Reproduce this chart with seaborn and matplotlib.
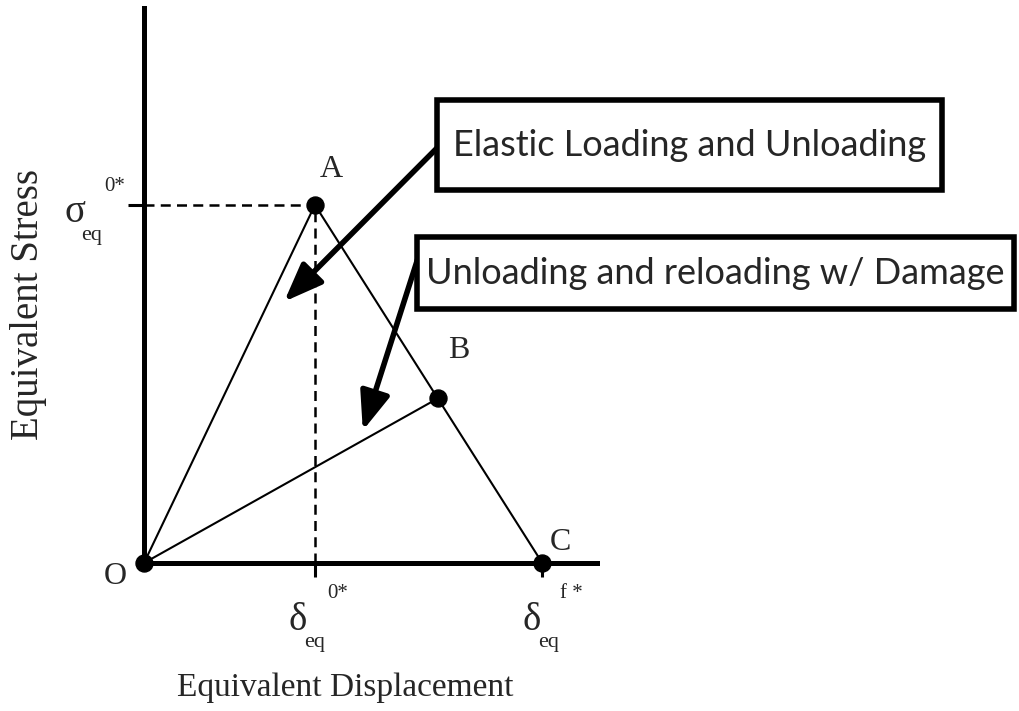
import numpy as np
import pandas as pd
import matplotlib
matplotlib.use("Agg")
import matplotlib.pyplot as plt
from matplotlib.patches import Rectangle
import seaborn as sns

## Data (equivalent displacement / equivalent stress, normalised to point A)
point_names = ["O", "A", "B", "C"]
disp = [0.0, 1.0, 1.72, 2.33]
stress = [0.0, 1.0, 0.46, 0.0]

# path segments drawn between the named points
segments = [("O", "A"), ("A", "C"), ("O", "B")]

# tick positions on the two axes
x_ticks = [1.0, 2.33]
y_ticks = [1.0]

box_labels = ["Elastic Loading and Unloading", "Unloading and reloading w/ Damage"]
arrow_heads = [(0.82, 0.73), (1.28, 0.37)]

pts = pd.DataFrame({"name": point_names, "disp": disp, "stress": stress}).set_index("name")

## Figure
sns.set_theme(style="white")
plt.rcParams["font.family"] = ["Liberation Serif", "DejaVu Serif"]

W, H = 1019, 711
fig = plt.figure(figsize=(W / 100, H / 100), dpi=100)
ax = fig.add_axes([144 / W, 148 / H, (597 - 144) / W, (563 - 8) / H])
ax.set_xlim(0, 2.65)
ax.set_ylim(0, 1.55)

# axis lines
for side in ["top", "right"]:
    ax.spines[side].set_visible(False)
for side in ["left", "bottom"]:
    ax.spines[side].set_linewidth(3.6)
    ax.spines[side].set_color("black")
    ax.spines[side].set_zorder(5)

ax.set_xticks(x_ticks)
ax.set_yticks(y_ticks)
ax.set_xticklabels([])
ax.set_yticklabels([])
ax.tick_params(axis="x", direction="out", length=10, width=2.2, color="black", bottom=True)
ax.tick_params(axis="y", direction="out", length=11.5, width=2.2, color="black", left=True)

# dashed guides to A
a = pts.loc["A"]
ax.plot([0, a.disp], [a.stress, a.stress], ls=(0, (4, 2.5)), lw=1.8, color="black", zorder=2)
ax.plot([a.disp, a.disp], [0, a.stress], ls=(0, (4, 2.5)), lw=1.8, color="black", zorder=2)

# loading / unloading paths
for p, q in segments:
    seg = pts.loc[[p, q]]
    sns.lineplot(x=seg["disp"].values, y=seg["stress"].values, sort=False,
                 color="black", lw=1.5, ax=ax, zorder=3)

sns.scatterplot(data=pts, x="disp", y="stress", s=150, color="black",
                edgecolor="black", ax=ax, zorder=6, clip_on=False)
ax.set_xlabel("")
ax.set_ylabel("")

# point letters
letter_off = {"O": (-29, -13), "A": (16, 35), "B": (21, 48), "C": (18, 20)}
for name, (dx, dy) in letter_off.items():
    ax.annotate(name, (pts.loc[name, "disp"], pts.loc[name, "stress"]),
                xytext=(dx, dy), textcoords="offset pixels",
                ha="center", va="center", fontsize=23)

# symbolic tick labels
def sym_label(x, y, dx, dy, main, sup):
    ax.annotate(main, (x, y), xytext=(dx, dy), textcoords="offset pixels",
                ha="center", va="center", fontsize=28, annotation_clip=False)
    ax.annotate("eq", (x, y), xytext=(dx + 17, dy - 23), textcoords="offset pixels",
                ha="center", va="center", fontsize=16, annotation_clip=False)
    ax.annotate(sup, (x, y), xytext=(dx + 40, dy + 26), textcoords="offset pixels",
                ha="center", va="center", fontsize=15, annotation_clip=False)

sym_label(x_ticks[0], 0, -17, -57, "δ", "0*")
sym_label(x_ticks[1], 0, -11, -57, "δ", "f *")
sym_label(0, y_ticks[0], -69, -8, "σ", "0*")

fig.text(345 / W, 1 - 688 / H, "Equivalent Displacement", ha="center", va="center", fontsize=24)
fig.text(29 / W, 1 - 305 / H, "Equivalent Stress", ha="center", va="center",
         fontsize=28, rotation=90)

# callout boxes with arrows
boxes = [(437, 100, 942, 190), (417, 237, 1014, 309)]
tails = [(440, 566), (418, 453)]
for label, (x0, y0, x1, y1), tail, head in zip(box_labels, boxes, tails, arrow_heads):
    fig.patches.append(Rectangle((x0 / W, 1 - y1 / H), (x1 - x0) / W, (y1 - y0) / H,
                                 transform=fig.transFigure, fill=True, facecolor="white",
                                 edgecolor="black", lw=4, zorder=10))
    fig.text((x0 + x1) / 2 / W, 1 - (y0 + y1) / 2 / H, label, ha="center", va="center",
             fontsize=26, family=["Lato", "DejaVu Sans"], zorder=11)
    ax.annotate("", xy=head, xycoords="data", xytext=tail, textcoords="figure pixels",
                arrowprops=dict(arrowstyle="-|>,head_length=0.9,head_width=0.35",
                                lw=4, color="black", mutation_scale=26,
                                shrinkA=0, shrinkB=0), zorder=8, annotation_clip=False)

fig.savefig("out.png", dpi=100, facecolor="white")
